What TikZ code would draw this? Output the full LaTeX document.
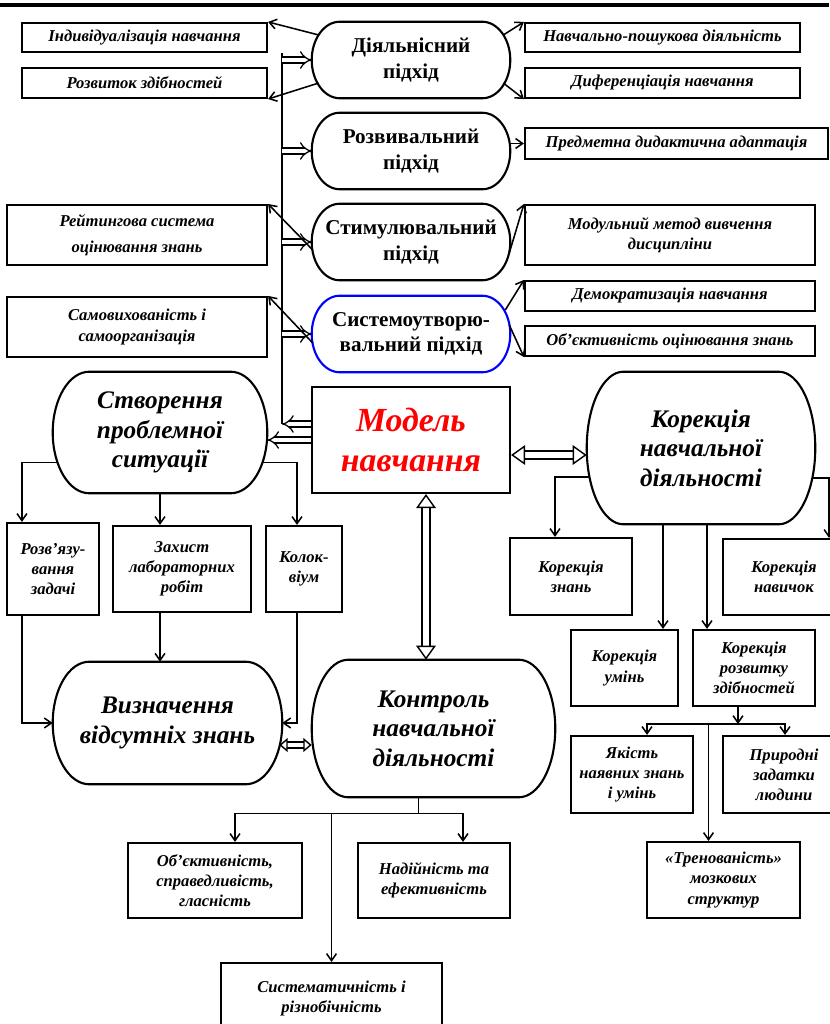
\documentclass[tikz,border=0pt]{standalone}
\usepackage{fontspec}
\setmainfont{Liberation Serif}
\usetikzlibrary{arrows.meta,calc}

\newcommand{\pxu}{0.025cm}
% rounded outline with elliptic sides round a named node
\newcommand{\stadium}[3][black]{%
  \draw[#1, line width=1.5pt] let \p1=(#2.north east), \p2=(#2.south west), \n1={(\y1-\y2)/2} in
    (\x2+#3,\y1) -- (\x1-#3,\y1) arc[start angle=90, end angle=-90, x radius=#3, y radius=\n1]
    -- (\x2+#3,\y2) arc[start angle=270, end angle=90, x radius=#3, y radius=\n1] -- cycle;}

\begin{document}
\begin{tikzpicture}[
x=0.025cm, y=-0.025cm,
sz/.style 2 args={minimum width=#1*\pxu, minimum height=#2*\pxu},
sbox/.style={draw, line width=1.5pt, inner sep=1pt, align=center,
  font=\fontsize{11.8}{14.3}\selectfont\bfseries\itshape},
appr/.style={inner sep=1pt, align=center, font=\fontsize{15}{18}\selectfont\bfseries},
bigst/.style={inner sep=1pt, align=center, font=\fontsize{18}{21}\selectfont\bfseries\itshape},
wire/.style={line width=1.1pt},
arr/.style={line width=1.1pt, -{Straight Barb[length=5pt,width=7pt]}},
spar/.style={double, line width=0.9pt, double distance=3.5pt, -{Implies}},
hol/.style={double, line width=1pt, double distance=4.5pt,
  {Triangle[open,length=10pt,width=14pt]}-{Triangle[open,length=10pt,width=14pt]}},
holsmall/.style={double, line width=1pt, double distance=3pt,
  {Triangle[open,length=6pt,width=10pt]}-{Triangle[open,length=6pt,width=10pt]}}
]
\useasboundingbox (0,0) rectangle (829,1024);
\draw[line width=2.4pt] (0,5) -- (829,5);

% approaches
\node[appr, sz={198}{76}] (diial) at (411,60) {Діяльнісний\\підхід};
\node[appr, sz={198}{76}] (rozvyv) at (411,151) {Розвивальний\\підхід};
\node[appr, sz={198}{76}] (stym) at (411,242) {Стимулювальний\\підхід};
\node[appr, sz={198}{76}] (syst) at (411,334) {Системоутворю-\\вальний підхід};
\foreach \nm in {diial,rozvyv,stym} {\stadium{\nm}{20pt}}
\stadium[blue]{syst}{20pt}

% side boxes
\node[sbox, sz={245}{29}] (ind) at (144.5,37.5) {Індивідуалізація навчання};
\node[sbox, sz={245}{30}] (rozv) at (144.5,83) {Розвиток здібностей};
\node[sbox, sz={260}{60}] (reit) at (137,235) {Рейтингова система\\[4pt]оцінювання знань};
\node[sbox, sz={260}{60}] (samo) at (137,327) {Самовихованість і\\самоорганізація};
\node[sbox, sz={275}{29}] (npd) at (662.5,37.5) {Навчально-пошукова діяльність};
\node[sbox, sz={275}{30}] (dyf) at (662.5,83) {Диференціація навчання};
\node[sbox, sz={303}{31}] (pda) at (676.5,143.5) {Предметна дидактична адаптація};
\node[sbox, sz={290}{60}] (mmv) at (670,235) {Модульний метод вивчення\\дисципліни};
\node[sbox, sz={290}{30}] (dem) at (670,296) {Демократизація навчання};
\node[sbox, sz={290}{30}] (obj) at (670,341) {Об’єктивність оцінювання знань};

% centre
\node[draw, line width=1.5pt, sz={198}{106}, align=center, text=red,
  font=\fontsize{24}{28.5}\selectfont\bfseries\itshape] (model) at (411,440) {Модель\\навчання};
\node[bigst, sz={214}{121}] (stvor) at (160,432.5) {Створення\\проблемної\\ситуації};
\node[bigst, sz={228}{152}] (koryg) at (701,448) {Корекція\\навчальної\\діяльності};
\node[bigst, sz={229}{122}] (vyzn) at (167.5,723) {Визначення\\відсутніх знань};
\node[bigst, sz={243}{137}] (kontr) at (433.5,728.5) {Контроль\\навчальної\\діяльності};
\foreach \nm in {stvor,koryg,vyzn,kontr} {\stadium{\nm}{26pt}}

% lower boxes
\node[sbox, sz={92}{92}] (rbz) at (53,569) {Розв’язу-\\вання\\задачі};
\node[sbox, sz={138}{86}] (zlr) at (182,569) {Захист\\лабораторних\\робіт};
\node[sbox, sz={76}{86}] (kol) at (304,569) {Колок-\\віум};
\node[sbox, sz={174}{75}] (obr) at (215,880.5) {Об’єктивність,\\справедливість,\\гласність};
\node[sbox, sz={152}{75}] (nad) at (434,880.5) {Надійність та\\ефективність};
\node[sbox, sz={221}{71}] (sys) at (331.5,998.5) {Систематичність і\\різнобічність};
\node[sbox, sz={122}{77}] (kzn) at (571,576.5) {Корекція\\знань};
\node[sbox, sz={122}{76}] (knv) at (784,577) {Корекція\\навичок};
\node[sbox, sz={107}{76}] (kum) at (624.5,668) {Корекція\\умінь};
\node[sbox, sz={122}{76}] (krz) at (754,668) {Корекція\\розвитку\\здібностей};
\node[sbox, sz={122}{77}] (yak) at (632,774.5) {Якість\\наявних знань\\і умінь};
\node[sbox, sz={122}{77}] (pryr) at (784,774.5) {Природні\\задатки\\людини};
\node[sbox, sz={153}{76}] (trn) at (723.5,880) {«Тренованість»\\мозкових\\структур};

% spine
\coordinate (sptop) at (282,53);
\coordinate (spbot) at (282,424);
\draw[wire] (sptop) -- (spbot);
\foreach \nm in {diial,rozvyv,stym,syst} {\draw[spar] (sptop |- \nm.west) -- (\nm.west);}
\draw[spar] (model.west |- spbot) -- (spbot);
\draw[spar] (model.west) -- (model.west -| stvor.east);

% approaches to side boxes
\draw[arr] ($(diial.west)+(7,-25)$) -- (ind.north east);
\draw[arr] ($(diial.west)+(7,23)$) -- (rozv.south east);
\draw[arr] ($(diial.east)+(-7,-25)$) -- (npd.north west);
\draw[arr] ($(diial.east)+(-7,23)$) -- (dyf.south west);
\draw[arr] (rozvyv.east |- pda.west) -- (pda.west);
\draw[arr] ($(stym.west)+(1,8)$) -- (reit.north east);
\draw[arr] ($(stym.east)+(-1,11)$) -- (mmv.north west);
\draw[arr] ($(syst.west)+(1,9)$) -- (samo.north east);
\draw[arr] ($(syst.east)+(-5,-24)$) -- (dem.north west);
\draw[arr] ($(syst.east)+(-1,-9)$) -- (obj.south west);

% double arrows
\draw[hol] ($(model.east)+(0,15)$) -- ($(koryg.west)+(0,7)$);
\coordinate (mk) at ($(model.south)+(15,0)$);
\draw[hol] (mk) -- (mk |- kontr.north);
\coordinate (vk) at ($(vyzn.east)+(-3,22)$);
\draw[holsmall] (vk) -- (vk -| kontr.west);

% problem situation
\draw[arr] ($(stvor.west)+(5,30)$) -| ($(rbz.north west)+(16,0)$);
\draw[arr] (stvor.south) -- (stvor.south |- zlr.north);
\draw[arr] ($(stvor.east)+(-5,30)$) -| ($(kol.north)+(-7,0)$);
\draw[arr] ($(rbz.south west)+(16,0)$) |- (vyzn.west);
\draw[arr] (stvor.south |- zlr.south) -- (stvor.south |- vyzn.north);
\draw[arr] ($(kol.south)+(-7,0)$) |- (vyzn.east);

% control
\coordinate (kj) at ($(kontr.south)+(-15,16)$);
\draw[wire] (kj |- kontr.south) -- (kj);
\draw[arr] (kj) -| ($(obr.north)+(20,0)$);
\draw[arr] (kj) -| ($(nad.north)+(29,0)$);
\draw[arr] (kj -| sys.north) -- (sys.north);

% correction
\draw[arr] ($(koryg.west)+(3,29)$) -| ($(kzn.north)+(-16,0)$);
\draw[arr] ($(koryg.east)+(-3,30)$) -| ($(knv.north east)+(-17,0)$);
\coordinate (ka) at ($(koryg.south)+(-38,0)$);
\draw[arr] (ka) -- (ka |- kum.north);
\coordinate (kb) at ($(koryg.south)+(6,0)$);
\draw[arr] (kb) -- (kb |- krz.north);
\coordinate (kr) at ($(krz.south)+(-16,17)$);
\draw[arr] (kr |- krz.south) -- (kr);
\draw[arr] (kr) -| ($(yak.north)+(15,0)$);
\draw[arr] (kr) -| ($(pryr.north)+(1,0)$);
\coordinate (tt) at ($(trn.north)+(-15,0)$);
\draw[arr] (tt |- kr) -- (tt);
\end{tikzpicture}
\end{document}
